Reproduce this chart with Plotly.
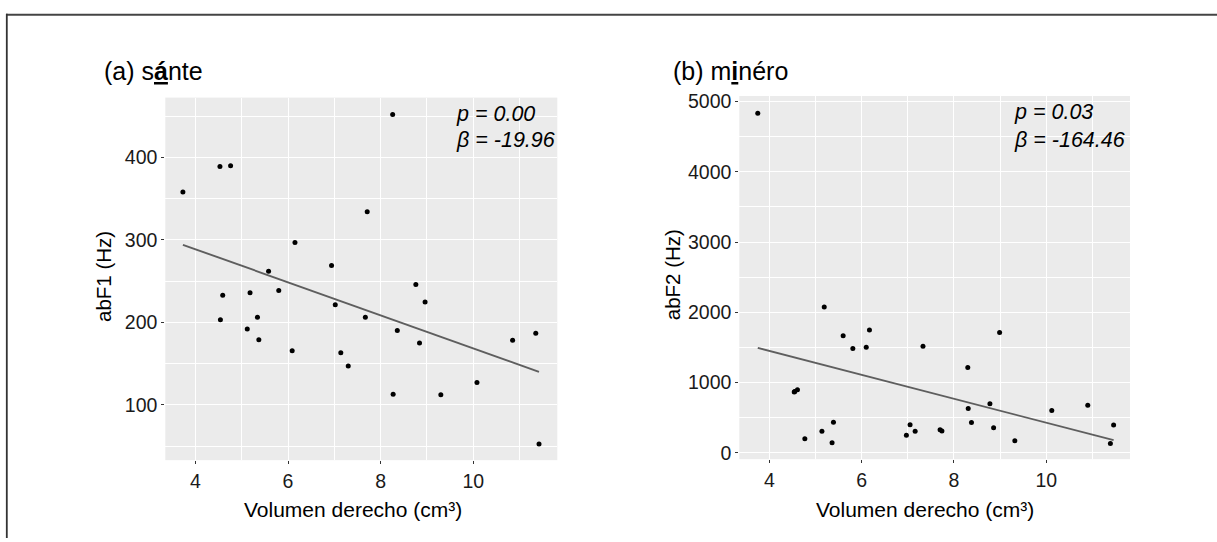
import plotly.graph_objects as go

W, H = 1217, 542

# ---------------- data ----------------
vol_a = [3.73, 4.53, 4.76, 8.26, 7.71, 6.15, 6.94, 5.58, 8.76, 4.59,
         5.18, 5.80, 8.96, 7.02, 4.54, 5.34, 7.67, 5.12, 8.36, 11.35,
         5.37, 10.85, 8.84, 6.09, 7.14, 7.30, 10.08, 8.27, 9.30, 11.42]
abf1 = [358, 389, 390, 452, 334, 297, 269, 262, 246, 233,
        236, 238.5, 224.6, 221.4, 203.2, 206.3, 206.3, 192.1, 190.1, 186.9,
        179, 178.2, 175, 165.5, 163.1, 147.2, 127, 112.7, 112.3, 52.4]

vol_b = [3.75, 4.55, 4.54, 4.61, 4.77, 5.19, 5.14, 5.39, 5.36, 5.60,
         5.81, 6.10, 6.17, 6.97, 7.05, 7.16, 7.33, 7.70, 7.74, 8.30,
         8.31, 8.38, 8.78, 8.86, 8.99, 9.32, 10.12, 10.90, 11.39, 11.46]
abf2 = [4832, 875, 868, 898, 200, 2076, 307, 438, 144, 1667,
        1485, 1504, 1750, 251, 400, 307, 1518, 331, 312, 1215,
        633, 433, 698, 358, 1713, 172, 605, 680, 135, 396]

# fitted lines (intercept, slope) as drawn in the picture
fit_a = [368.8, -20.03]
fit_b = [2133.0, -170.3]

titles = ["(a) s<b><u>á</u></b>nte", "(b) m<b><u>i</u></b>néro"]
ytitles = ["abF1 (Hz)", "abF2 (Hz)"]
xtitle = "Volumen derecho (cm³)"
stats_a = ["p = 0.00", "β = -19.96"]
stats_b = ["p = 0.03", "β = -164.46"]

x_ticks = [4, 6, 8, 10]
ya_ticks = [100, 200, 300, 400]
yb_ticks = [0, 1000, 2000, 3000, 4000, 5000]

FONT = "Liberation Sans, Arial, Helvetica, sans-serif"


def px(x):
    return x / W


def py(y):
    return 1 - y / H


fig = go.Figure()

for vol, val, fit, xa, ya in [(vol_a, abf1, fit_a, "x", "y"), (vol_b, abf2, fit_b, "x2", "y2")]:
    fig.add_trace(go.Scatter(x=vol, y=val, mode="markers", xaxis=xa, yaxis=ya,
                             marker=dict(size=5, color="black"), showlegend=False,
                             hoverinfo="skip"))
    x0, x1 = min(vol), max(vol)
    fig.add_trace(go.Scatter(x=[x0, x1], y=[fit[0] + fit[1] * x0, fit[0] + fit[1] * x1],
                             mode="lines", xaxis=xa, yaxis=ya,
                             line=dict(color="#5e5e5e", width=1.9), showlegend=False,
                             hoverinfo="skip"))

common_axis = dict(showline=False, zeroline=False, ticks="outside", ticklen=3,
                   tickwidth=1, tickcolor="#333333", gridcolor="white", gridwidth=1.2,
                   tickfont=dict(family=FONT, size=19.5, color="#1a1a1a"),
                   fixedrange=True)

fig.update_layout(
    width=W, height=H, autosize=False,
    margin=dict(l=0, r=0, t=0, b=0),
    paper_bgcolor="white", plot_bgcolor="#EBEBEB",
    font=dict(family=FONT, color="black"),
    xaxis=dict(domain=[px(165.3), px(557.3)], range=[3.35, 11.815], anchor="y",
               tickvals=x_ticks,
               minor=dict(tickvals=[3, 5, 7, 9, 11], showgrid=True, gridcolor="white",
                          gridwidth=0.6, ticks=""),
               **common_axis),
    yaxis=dict(domain=[py(462.7), py(93.3)], range=[32.9, 472.6], anchor="x",
               tickvals=ya_ticks,
               minor=dict(tickvals=[50, 150, 250, 350, 450], showgrid=True,
                          gridcolor="white", gridwidth=0.6, ticks=""),
               **common_axis),
    xaxis2=dict(domain=[px(739.3), px(1130)], range=[3.35, 11.815], anchor="y2",
                tickvals=x_ticks,
                minor=dict(tickvals=[3, 5, 7, 9, 11], showgrid=True, gridcolor="white",
                           gridwidth=0.6, ticks=""),
                **common_axis),
    yaxis2=dict(domain=[py(461.7), py(91.7)], range=[-89, 5078], anchor="x2",
                tickvals=yb_ticks,
                minor=dict(tickvals=[500, 1500, 2500, 3500, 4500], showgrid=True,
                           gridcolor="white", gridwidth=0.6, ticks=""),
                **common_axis),
)

ann = []


def add_text(text, x, y, size, xanchor="left", angle=0, italic=False):
    ann.append(dict(text=f"<i>{text}</i>" if italic else text,
                    x=px(x), y=py(y), xref="paper", yref="paper",
                    xanchor=xanchor, yanchor="middle", showarrow=False,
                    textangle=angle,
                    font=dict(family=FONT, size=size, color="black")))


add_text(titles[0], 101.5, 66.7, 25)
add_text(titles[1], 670.5, 66.7, 25)
add_text(ytitles[0], 103.3, 275.8, 20.5, xanchor="center", angle=-90)
add_text(ytitles[1], 673.3, 274.0, 20.5, xanchor="center", angle=-90)
add_text(xtitle, 353.3, 513.3, 21, xanchor="center")
add_text(xtitle, 924.5, 513.3, 21, xanchor="center")
add_text(stats_a[0], 454, 110, 21.5, italic=True)
add_text(stats_a[1], 454, 136.7, 21.5, italic=True)
add_text(stats_b[0], 1012, 108.5, 21.5, italic=True)
add_text(stats_b[1], 1012, 136.7, 21.5, italic=True)

fig.update_layout(annotations=ann)

# frame lines (top and left edges of the surrounding box)
fig.add_shape(type="line", xref="paper", yref="paper", x0=px(6), x1=1, y0=py(9), y1=py(9),
              line=dict(color="#444444", width=2))
fig.add_shape(type="line", xref="paper", yref="paper", x0=px(6.8), x1=px(6.8), y0=py(8), y1=0,
              line=dict(color="#333333", width=1.8))

fig.write_html("out.html")
